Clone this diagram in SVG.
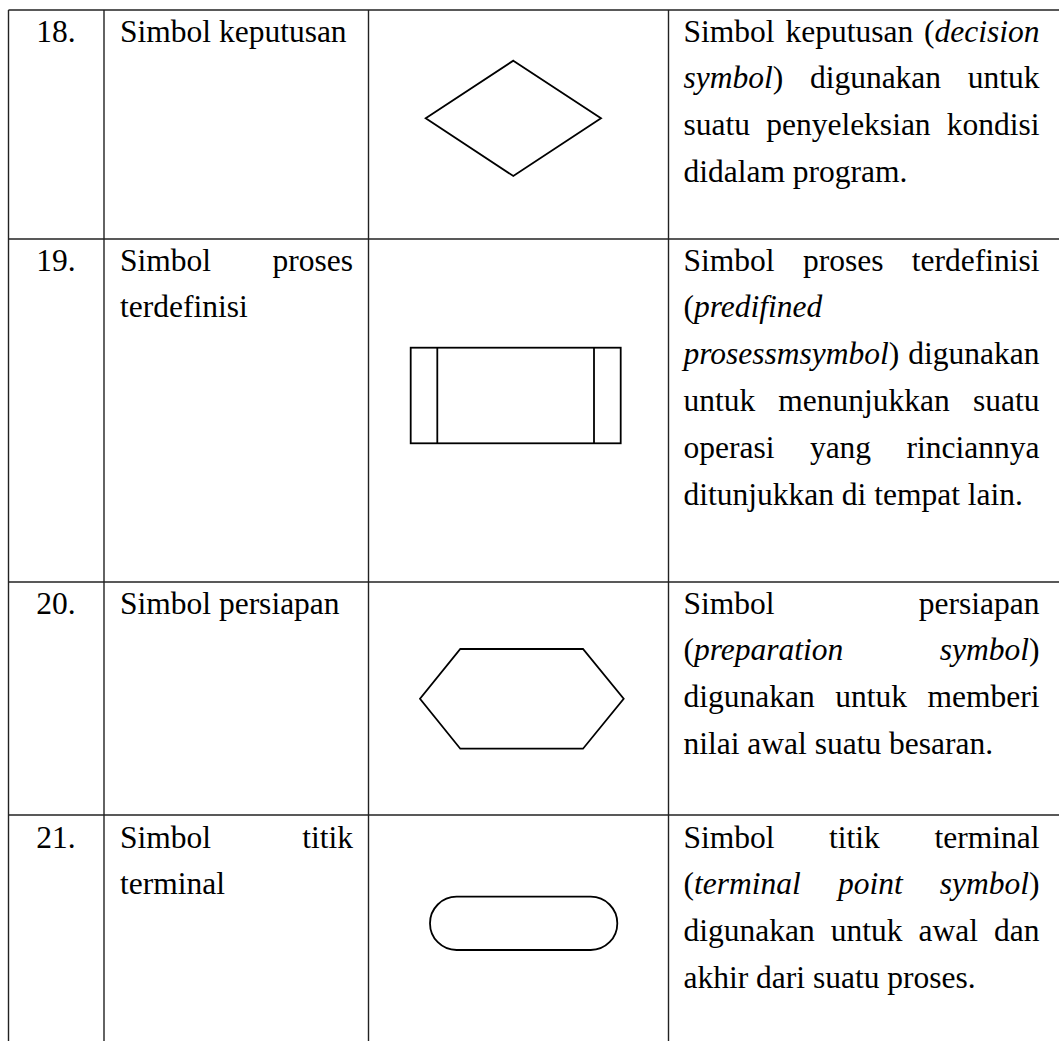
<svg xmlns="http://www.w3.org/2000/svg" width="1059" height="1041" viewBox="0 0 1059 1041">
<style>
text{font-family:"Liberation Serif","Times New Roman",serif;font-size:31.5px;fill:#000}
.i{font-style:italic}
.e{text-anchor:end}
.m{text-anchor:middle}
.grid line{stroke:#222;stroke-width:1.4}
.sym{fill:none;stroke:#000;stroke-width:1.8}
</style>
<rect width="1059" height="1041" fill="#fff"/>
<g id="grid" class="grid">
<line x1="8.5" y1="10" x2="1059" y2="10"/>
<line x1="8.5" y1="239" x2="1059" y2="239"/>
<line x1="8.5" y1="582" x2="1059" y2="582"/>
<line x1="8.5" y1="815" x2="1059" y2="815"/>
<line x1="8.5" y1="10" x2="8.5" y2="1041"/>
<line x1="104" y1="10" x2="104" y2="1041"/>
<line x1="368.5" y1="10" x2="368.5" y2="1041"/>
<line x1="668.5" y1="10" x2="668.5" y2="1041"/>
</g>
<g id="row18">
<text x="56" y="41.5" class="m">18.</text>
<text x="120" y="41.5">Simbol keputusan</text>
<polygon class="sym" points="513.3,60.7 601,118.3 513.3,176 425.7,118.3"/>
<text x="683.5" y="41.5">Simbol</text>
<text x="849.3" y="41.5" class="m">keputusan</text>
<text x="1039.5" y="41.5" class="e">(<tspan class="i">decision</tspan></text>
<text x="683.5" y="88.3"><tspan class="i">symbol</tspan>)</text>
<text x="875.5" y="88.3" class="m">digunakan</text>
<text x="1039.5" y="88.3" class="e">untuk</text>
<text x="683.5" y="135.1">suatu</text>
<text x="848.4" y="135.1" class="m">penyeleksian</text>
<text x="1039.5" y="135.1" class="e">kondisi</text>
<text x="683.5" y="181.9">didalam program.</text>
</g>
<g id="row19">
<text x="56" y="270.5" class="m">19.</text>
<text x="120" y="270.5">Simbol</text>
<text x="353" y="270.5" class="e">proses</text>
<text x="120" y="317.3">terdefinisi</text>
<rect class="sym" x="410.7" y="347.7" width="210" height="95.6"/>
<line class="sym" x1="437.3" y1="347.7" x2="437.3" y2="443.3"/>
<line class="sym" x1="594" y1="347.7" x2="594" y2="443.3"/>
<text x="683.5" y="270.5">Simbol</text>
<text x="843.2" y="270.5" class="m">proses</text>
<text x="1039.5" y="270.5" class="e">terdefinisi</text>
<text x="683.5" y="317.3">(<tspan class="i">predifined</tspan></text>
<text x="683.5" y="364.1"><tspan class="i">prosessmsymbol</tspan>)</text>
<text x="1039.5" y="364.1" class="e">digunakan</text>
<text x="683.5" y="410.9">untuk</text>
<text x="864.1" y="410.9" class="m">menunjukkan</text>
<text x="1039.5" y="410.9" class="e">suatu</text>
<text x="683.5" y="457.7">operasi</text>
<text x="840.5" y="457.7" class="m">yang</text>
<text x="1039.5" y="457.7" class="e">rinciannya</text>
<text x="683.5" y="504.5">ditunjukkan di tempat lain.</text>
</g>
<g id="row20">
<text x="56" y="613.5" class="m">20.</text>
<text x="120" y="613.5">Simbol persiapan</text>
<polygon class="sym" points="460.3,649 583,649 623.7,698.8 583,748.7 460.3,748.7 420,698.8"/>
<text x="683.5" y="613.5">Simbol</text>
<text x="1039.5" y="613.5" class="e">persiapan</text>
<text x="683.5" y="660.3">(<tspan class="i">preparation</tspan></text>
<text x="1039.5" y="660.3" class="e"><tspan class="i">symbol</tspan>)</text>
<text x="683.5" y="707.1">digunakan</text>
<text x="871.1" y="707.1" class="m">untuk</text>
<text x="1039.5" y="707.1" class="e">memberi</text>
<text x="683.5" y="753.9">nilai awal suatu besaran.</text>
</g>
<g id="row21">
<text x="56" y="847.5" class="m">21.</text>
<text x="120" y="847.5">Simbol</text>
<text x="353" y="847.5" class="e">titik</text>
<text x="120" y="894.3">terminal</text>
<rect class="sym" x="430" y="896.7" width="187.3" height="53.3" rx="26.6" ry="26.6"/>
<text x="683.5" y="847.5">Simbol</text>
<text x="854.5" y="847.5" class="m">titik</text>
<text x="1039.5" y="847.5" class="e">terminal</text>
<text x="683.5" y="894.3">(<tspan class="i">terminal</tspan></text>
<text x="870.3" y="894.3" class="m i">point</text>
<text x="1039.5" y="894.3" class="e"><tspan class="i">symbol</tspan>)</text>
<text x="683.5" y="941.1">digunakan</text>
<text x="830.7" y="941.1">untuk</text>
<text x="918.5" y="941.1">awal</text>
<text x="1039.5" y="941.1" class="e">dan</text>
<text x="683.5" y="987.9">akhir dari suatu proses.</text>
</g>
</svg>
